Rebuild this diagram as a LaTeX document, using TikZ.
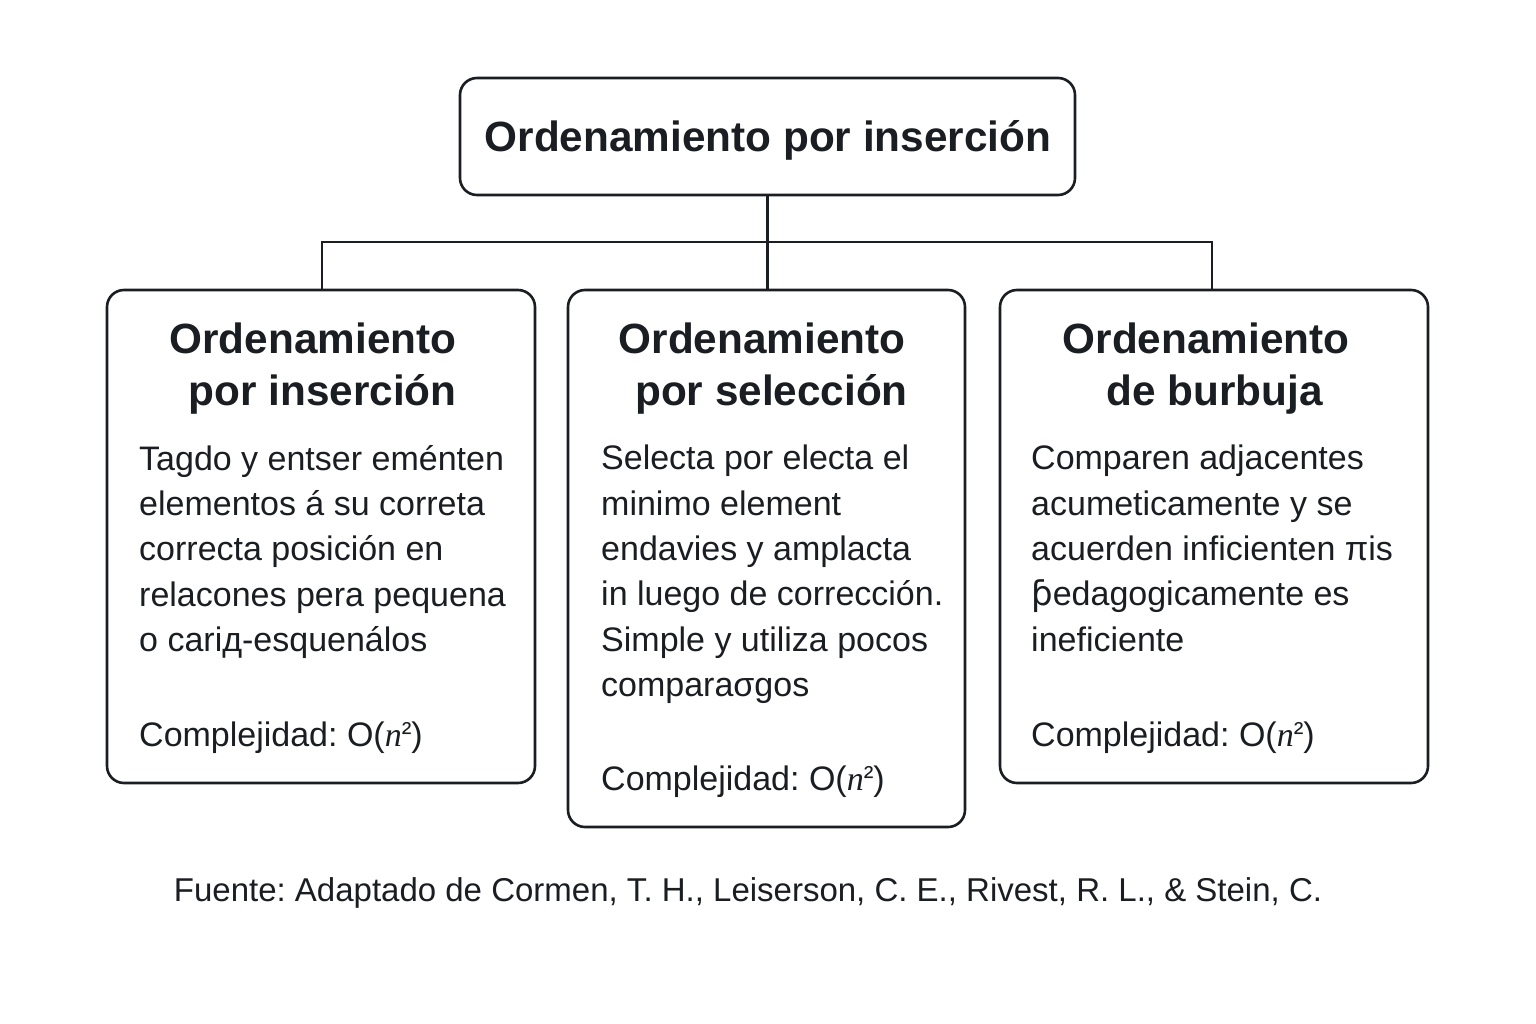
\documentclass[tikz,border=0pt]{standalone}
\usepackage{fontspec}
\setmainfont{Liberation Sans}
\newfontfamily\dvfont{DejaVu Sans}
\newfontfamily\serfont{Liberation Serif}
\usetikzlibrary{positioning}
\definecolor{ink}{HTML}{1A1D21}
\newcommand{\nsq}{{\serfont\itshape n}\raisebox{0.12em}{\scalebox{0.85}{²}}}
\frenchspacing
\tikzset{
  box/.style={draw=ink, line width=2.6pt, rounded corners=17pt, inner sep=0pt},
  ttl/.style={text=ink, align=center, font=\fontsize{42.3}{52}\selectfont\bfseries},
  body/.style={text=ink, align=left, anchor=north west, inner sep=0pt, font=\fontsize{34}{45.3}\selectfont},
  cplx/.style={text=ink, anchor=west, inner sep=0pt, font=\fontsize{34}{40}\selectfont},
  link/.style={draw=ink, line width=2.2pt}
}
\begin{document}
\begin{tikzpicture}[x=1pt,y=-1pt]
\useasboundingbox[fill=white] (0,0) rectangle (1536,1024);
% boxes
\node[box, minimum width=615pt, minimum height=117pt] (top) at (767.5,136.5) {};
\node[ttl] (toptxt) at (768,140) {Ordenamiento por inserción};
\node[box, minimum width=428pt, minimum height=493pt] (b1) at (321,536.5) {};
\node[box, minimum width=397pt, minimum height=537pt] (b2) at (766.5,558.5) {};
\node[box, minimum width=428pt, minimum height=493pt] (b3) at (1214,536.5) {};
% connectors
\coordinate (junc) at ([yshift=-46pt]top.south);
\draw[link] (top.south) -- (junc);
\draw[link] ([xshift=1pt]b1.north) |- (junc) -| ([xshift=-2pt]b3.north);
\draw[link] (junc) -- (junc |- b2.north);
% titles
\node[ttl] (t1) at (313,369) {Ordenamiento\\ \hspace*{0.45em}por inserción};
\node[ttl] (t2) at (762,369) {Ordenamiento\\ \hspace*{0.45em}por selección};
\node[ttl] (t3) at (1206,369) {Ordenamiento\\ \hspace*{0.4em}de burbuja};
% bodies
\node[body] (d1) at (139,445) {Tagdo y entser eménten\\elementos á su correta\\correcta posición en\\relacones pera pequena\\o cariд-esquenálos};
\node[body] (d2) at (601,445) {Selecta por electa el\\minimo element\\endavies y amplacta\\in luego de corrección.\\Simple y utiliza pocos\\comparaσgos};
\node[body] (d3) at (1031,445) {Comparen adjacentes\\acumeticamente y se\\acuerden inficienten πis\\{\dvfont ƥ}edagogicamente es\\ineficiente};
% complexity
\node[cplx] (c1) at (139,738) {Complejidad: O(\nsq)};
\node[cplx] (c2) at (601,782) {Complejidad: O(\nsq)};
\node[cplx] (c3) at (1031,738) {Complejidad: O(\nsq)};
% source
\node[text=ink, inner sep=0pt, font=\fontsize{33}{40}\selectfont] (src) at (748,893) {Fuente: Adaptado de Cormen, T. H., Leiserson, C. E., Rivest, R. L., \& Stein, C.};
\end{tikzpicture}
\end{document}
